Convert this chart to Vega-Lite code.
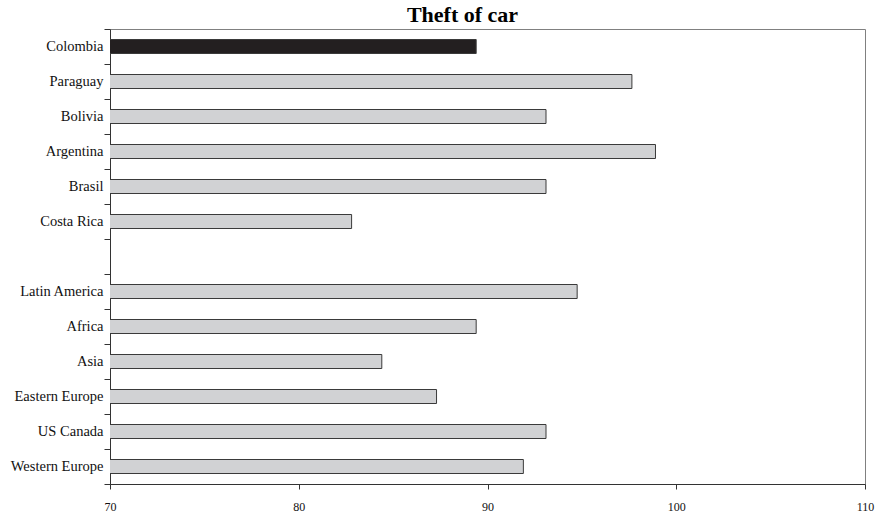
{
  "$schema": "https://vega.github.io/schema/vega-lite/v6.json",
  "autosize": "none",
  "width": 755,
  "height": 455,
  "padding": {"left": 110, "top": 29, "right": 12, "bottom": 33},
  "background": "white",
  "title": {
    "text": "Theft of car",
    "font": "Liberation Serif",
    "fontSize": 22,
    "fontWeight": "bold",
    "color": "#000000",
    "anchor": "middle",
    "baseline": "alphabetic",
    "dx": -25,
    "dy": 28,
    "offset": 5
  },
  "config": {
    "view": {"stroke": "#808080", "strokeWidth": 1}
  },
  "data": {
    "values": [
      {"region": "Colombia", "value": 89.4, "group": "Colombia"},
      {"region": "Paraguay", "value": 97.65, "group": "other"},
      {"region": "Bolivia", "value": 93.1, "group": "other"},
      {"region": "Argentina", "value": 98.9, "group": "other"},
      {"region": "Brasil", "value": 93.1, "group": "other"},
      {"region": "Costa Rica", "value": 82.8, "group": "other"},
      {"region": "Latin America", "value": 94.75, "group": "other"},
      {"region": "Africa", "value": 89.4, "group": "other"},
      {"region": "Asia", "value": 84.4, "group": "other"},
      {"region": "Eastern Europe", "value": 87.3, "group": "other"},
      {"region": "US Canada", "value": 93.1, "group": "other"},
      {"region": "Western Europe", "value": 91.9, "group": "other"}
    ]
  },
  "mark": {"type": "bar", "stroke": "#3a3a3a", "strokeWidth": 1, "clip": true, "height": {"band": 0.4}},
  "encoding": {
    "y": {
      "field": "region",
      "type": "nominal",
      "scale": {
        "domain": ["Colombia", "Paraguay", "Bolivia", "Argentina", "Brasil", "Costa Rica", " ", "Latin America", "Africa", "Asia", "Eastern Europe", "US Canada", "Western Europe"],
        "paddingInner": 0,
        "paddingOuter": 0
      },
      "axis": {
        "title": null,
        "tickBand": "extent",
        "tickSize": 6,
        "tickColor": "#333333",
        "domainColor": "#333333",
        "labelFont": "Liberation Serif",
        "labelFontSize": 14.5,
        "labelColor": "#111111",
        "labelPadding": 1
      }
    },
    "x": {
      "field": "value",
      "type": "quantitative",
      "scale": {"domain": [70, 110], "nice": false, "zero": false},
      "axis": {
        "title": null,
        "values": [70, 80, 90, 100, 110],
        "grid": false,
        "tickSize": 5,
        "tickColor": "#333333",
        "domainColor": "#333333",
        "labelFont": "Liberation Serif",
        "labelFontSize": 12,
        "labelColor": "#111111",
        "labelPadding": 12,
        "labelFlush": false
      }
    },
    "color": {
      "field": "group",
      "type": "nominal",
      "scale": {"domain": ["Colombia", "other"], "range": ["#231f20", "#d1d2d4"]},
      "legend": null
    }
  }
}
